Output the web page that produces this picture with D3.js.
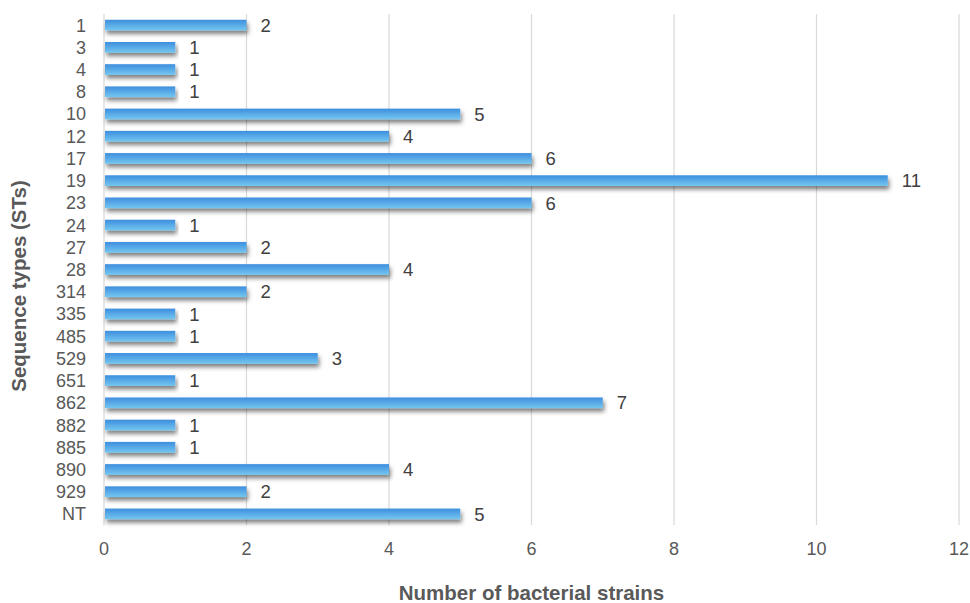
<!DOCTYPE html>
<html>
<head>
<meta charset="utf-8">
<script src="https://cdn.jsdelivr.net/npm/d3@7"></script>
<style>
  html, body { margin: 0; padding: 0; background: #fff; }
  svg { display: block; font-family: "Liberation Sans", Arial, sans-serif; }
</style>
</head>
<body>
<svg id="chart" width="970" height="603"></svg>
<script>
// Sequence types and strain counts
const categories = ["1","3","4","8","10","12","17","19","23","24","27","28","314","335","485","529","651","862","882","885","890","929","NT"];
const counts = [2,1,1,1,5,4,6,11,6,1,2,4,2,1,1,3,1,7,1,1,4,2,5];
const xTicks = [0,2,4,6,8,10,12];

const data = categories.map((c, i) => ({ cat: c, value: counts[i] }));

const svg = d3.select("#chart");
const margin = { left: 104, right: 11, top: 14, bottom: 78 };
const W = 970, H = 603;

const x = d3.scaleLinear().domain([0, 12]).range([margin.left, W - margin.right]);
const y = d3.scaleBand().domain(categories).range([margin.top, H - margin.bottom]).paddingInner(0.52).paddingOuter(0.26);

const defs = svg.append("defs");
const grad = defs.append("linearGradient").attr("id", "barGrad")
  .attr("x1", 0).attr("y1", 0).attr("x2", 0).attr("y2", 1);
grad.append("stop").attr("offset", "0%").attr("stop-color", "#3d8ede");
grad.append("stop").attr("offset", "100%").attr("stop-color", "#74c6f0");

const shadow = defs.append("filter").attr("id", "shadow")
  .attr("x", "-5%").attr("y", "-50%").attr("width", "110%").attr("height", "260%");
shadow.append("feDropShadow").attr("dx", 1.5).attr("dy", 3.5).attr("stdDeviation", 2)
  .attr("flood-color", "#000").attr("flood-opacity", 0.5);

// Vertical gridlines
svg.append("g").selectAll("line").data(xTicks).join("line")
  .attr("x1", d => x(d)).attr("x2", d => x(d))
  .attr("y1", margin.top).attr("y2", H - margin.bottom)
  .attr("stroke", "#d9d9d9").attr("stroke-width", 1.2);

// Bars
svg.append("g").selectAll("rect").data(data).join("rect")
  .attr("x", x(0) + 1)
  .attr("y", d => y(d.cat))
  .attr("width", d => x(d.value) - x(0) - 1)
  .attr("height", y.bandwidth())
  .attr("fill", "url(#barGrad)")
  .attr("filter", "url(#shadow)");

// Value labels
svg.append("g").selectAll("text").data(data).join("text")
  .attr("x", d => x(d.value) + 14)
  .attr("y", d => y(d.cat) + y.bandwidth() / 2)
  .attr("dy", "0.36em")
  .attr("font-size", 18.5)
  .attr("fill", "#404040")
  .text(d => d.value);

// Y axis category labels
svg.append("g").selectAll("text").data(categories).join("text")
  .attr("x", 86)
  .attr("y", d => y(d) + y.bandwidth() / 2)
  .attr("dy", "0.36em")
  .attr("text-anchor", "end")
  .attr("font-size", 18)
  .attr("fill", "#595959")
  .text(d => d);

// X axis tick labels
svg.append("g").selectAll("text").data(xTicks).join("text")
  .attr("x", d => x(d))
  .attr("y", 555)
  .attr("text-anchor", "middle")
  .attr("font-size", 18)
  .attr("fill", "#595959")
  .text(d => d);

// Axis titles
svg.append("text")
  .attr("x", (x(0) + x(12)) / 2)
  .attr("y", 600)
  .attr("text-anchor", "middle")
  .attr("font-size", 20.5)
  .attr("font-weight", "bold")
  .attr("fill", "#595959")
  .text("Number of bacterial strains");

svg.append("text")
  .attr("transform", `translate(26, 286) rotate(-90)`)
  .attr("text-anchor", "middle")
  .attr("font-size", 20.5)
  .attr("font-weight", "bold")
  .attr("fill", "#595959")
  .text("Sequence types (STs)");
</script>
</body>
</html>
